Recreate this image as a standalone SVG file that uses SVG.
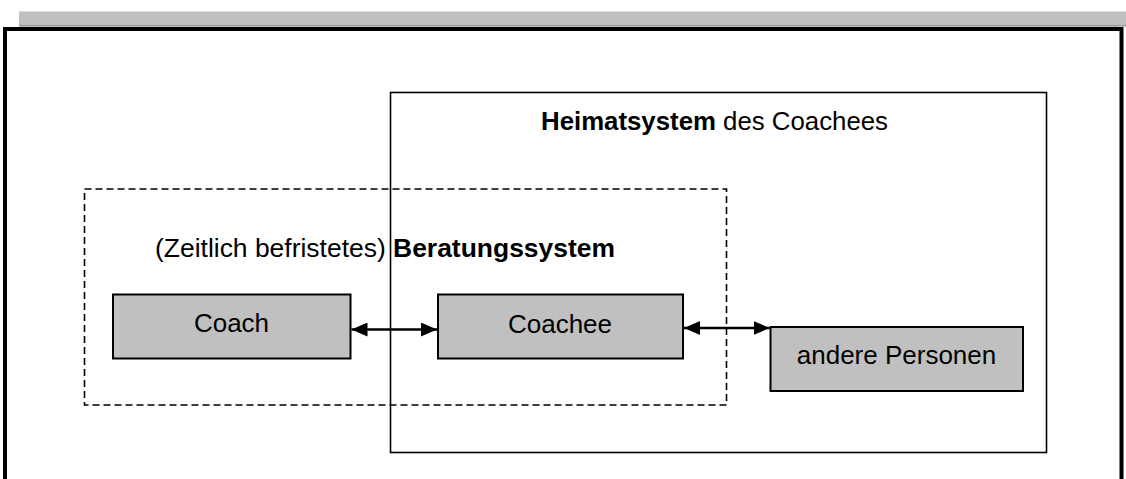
<svg xmlns="http://www.w3.org/2000/svg" width="1126" height="479" viewBox="0 0 1126 479">
<defs>
<style>
.t{font-family:"Liberation Sans",Arial,sans-serif;fill:#000}
.h{font-size:25px}
.n{font-size:26px;text-anchor:middle}
.b{font-weight:bold}
.box{fill:#c0c0c0;stroke:#000;stroke-width:2}
.frame{fill:none;stroke:#000}
.conn{stroke:#000;stroke-width:2.5;fill:none}
</style>
<marker id="ah" viewBox="0 0 16 14" refX="16" refY="7" markerWidth="16" markerHeight="14" markerUnits="userSpaceOnUse" orient="auto-start-reverse">
<path d="M0,0 L16,7 L0,14 Z" fill="#000"/>
</marker>
</defs>
<rect width="1126" height="479" fill="#fff"/>
<g id="topbar">
<rect x="19" y="11" width="1107" height="16" fill="#c0c0c0"/>
<line x1="19" y1="11.5" x2="1126" y2="11.5" stroke="#dcdcdc" stroke-width="1"/>
<line x1="19" y1="25.5" x2="1126" y2="25.5" stroke="#9a9a9a" stroke-width="1"/>
</g>
<g id="outer-frame">
<rect x="5" y="29" width="1116.5" height="500" class="frame" stroke-width="4"/>
</g>
<g id="heimatsystem">
<rect x="390.5" y="92.5" width="656" height="360" class="frame" stroke-width="1.6"/>
<text class="t h" x="541" y="130" textLength="347" lengthAdjust="spacingAndGlyphs"><tspan class="b">Heimatsystem</tspan> des Coachees</text>
</g>
<g id="beratungssystem">
<rect x="84.5" y="189" width="642" height="216" class="frame" stroke-width="1.6" stroke-dasharray="7,4"/>
<text class="t h" x="155" y="257" textLength="460" lengthAdjust="spacingAndGlyphs">(Zeitlich befristetes) <tspan class="b">Beratungssystem</tspan></text>
</g>
<g id="coach">
<rect x="113" y="294.5" width="237.5" height="64" class="box"/>
<text class="t n" x="231.5" y="332">Coach</text>
</g>
<g id="coachee">
<rect x="438" y="294.5" width="245" height="64" class="box"/>
<text class="t n" x="560" y="333">Coachee</text>
</g>
<g id="andere-personen">
<rect x="770.5" y="327" width="252.5" height="64" class="box"/>
<text class="t n" x="896.5" y="364">andere Personen</text>
</g>
<g id="connectors">
<line x1="351.5" y1="329.5" x2="437" y2="329.5" class="conn" marker-start="url(#ah)" marker-end="url(#ah)"/>
<line x1="684" y1="328" x2="769.5" y2="328" class="conn" marker-start="url(#ah)" marker-end="url(#ah)"/>
</g>
</svg>
